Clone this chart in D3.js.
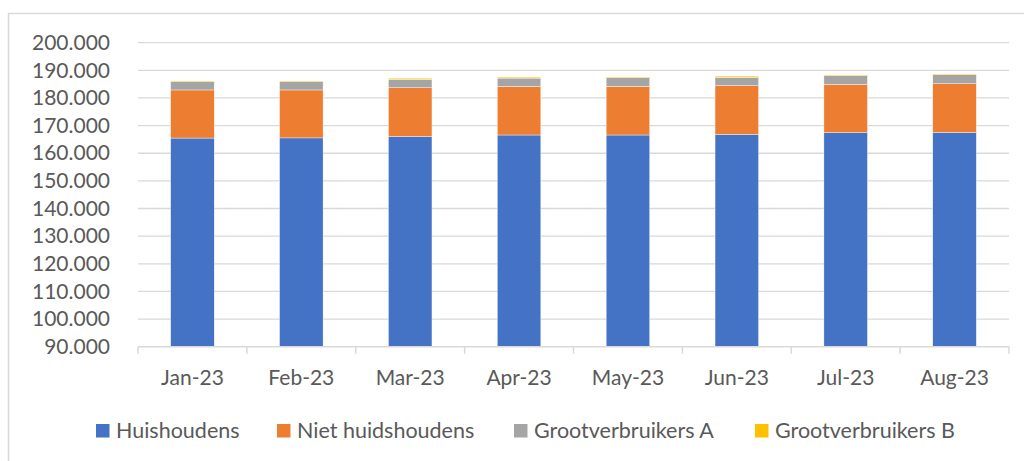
<!DOCTYPE html>
<html>
<head>
<meta charset="utf-8">
<script src="https://cdn.jsdelivr.net/npm/d3@7"></script>
<style>
    body { margin: 0; background: #fff; }
    text { font-family: Lato, "Open Sans", sans-serif; fill: #595959; }
</style>
</head>
<body>
<script>
// data
let months = ["Jan-23", "Feb-23", "Mar-23", "Apr-23", "May-23", "Jun-23", "Jul-23", "Aug-23"];
let huishoudens = [165500, 165550, 166100, 166600, 166600, 166850, 167450, 167550];
let nietHuishoudens = [17400, 17350, 17600, 17600, 17600, 17600, 17500, 17600];
let grootverbruikersA = [3000, 3000, 3000, 3000, 3100, 3000, 3150, 3250];
let grootverbruikersB = [250, 250, 450, 350, 250, 450, 250, 250];
let seriesNames = ["Huishoudens", "Niet huidshoudens", "Grootverbruikers A", "Grootverbruikers B"];
let colors = ["#4472C4", "#ED7D31", "#A5A5A5", "#FFC000"];
let yTicks = [90000, 100000, 110000, 120000, 130000, 140000, 150000, 160000, 170000, 180000, 190000, 200000];

let table = months.map((m, i) => ({
    month: m,
    s0: huishoudens[i],
    s1: nietHuishoudens[i],
    s2: grootverbruikersA[i],
    s3: grootverbruikersB[i]
}));
let stacked = d3.stack().keys(["s0", "s1", "s2", "s3"])(table);

let svg = d3.select("body")
    .append("svg")
    .attr("width", 1024)
    .attr("height", 461);

// chart border (runs off the right and bottom)
svg.append("rect")
    .attr("x", 8.5)
    .attr("y", 13.5)
    .attr("width", 1040)
    .attr("height", 470)
    .attr("fill", "none")
    .attr("stroke", "#d9d9d9")
    .attr("stroke-width", 1.5);

let plotLeft = 138, plotRight = 1009, plotTop = 42.7, plotBottom = 346.7;

let x = d3.scaleBand()
    .domain(months)
    .range([plotLeft, plotRight])
    .paddingInner(0.6)
    .paddingOuter(0.3);

// axis starts at 90.000, so the bottom segment is cut there
let y = d3.scaleLinear()
    .domain([90000, 200000])
    .range([plotBottom, plotTop])
    .clamp(true);

let fmt = d3.formatLocale({ decimal: ",", thousands: ".", grouping: [3], currency: ["", ""] }).format(",d");

// gridlines
svg.append("g")
    .selectAll("line")
    .data(yTicks.filter(d => d > 90000))
    .enter()
    .append("line")
    .attr("x1", plotLeft)
    .attr("x2", plotRight)
    .attr("y1", d => y(d))
    .attr("y2", d => y(d))
    .attr("stroke", "#d9d9d9")
    .attr("stroke-width", 1.3);

// y axis labels
let yAxis = svg.append("g")
    .attr("transform", `translate(${plotLeft},0)`)
    .call(d3.axisLeft(y).tickValues(yTicks).tickFormat(fmt).tickSize(0).tickPadding(28));
yAxis.select(".domain").remove();
yAxis.selectAll("text")
    .attr("font-size", 21)
    .attr("fill", "#595959")
    .style("font-family", "Lato, 'Open Sans', sans-serif");

// bars
svg.append("g")
    .selectAll("g")
    .data(stacked)
    .enter()
    .append("g")
    .attr("fill", (d, i) => colors[i])
    .selectAll("rect")
    .data(d => d)
    .enter()
    .append("rect")
    .attr("x", d => x(d.data.month))
    .attr("width", x.bandwidth())
    .attr("y", d => y(d[1]))
    .attr("height", d => y(d[0]) - y(d[1]))
    .attr("stroke", "#fff")
    .attr("stroke-width", 0.4);

// x axis
let xAxis = svg.append("g")
    .attr("transform", `translate(0,${plotBottom})`)
    .call(d3.axisBottom(x).tickSize(0).tickPadding(23));
xAxis.select(".domain")
    .attr("stroke", "#d9d9d9")
    .attr("stroke-width", 1.5)
    .attr("d", `M${plotLeft},0H${plotRight}`);
xAxis.selectAll("text")
    .attr("font-size", 21)
    .attr("fill", "#595959")
    .style("font-family", "Lato, 'Open Sans', sans-serif");

// category boundary ticks
let edges = d3.range(months.length + 1).map(i => plotLeft + i * (plotRight - plotLeft) / months.length);
svg.append("g")
    .selectAll("line")
    .data(edges)
    .enter()
    .append("line")
    .attr("x1", d => d)
    .attr("x2", d => d)
    .attr("y1", plotBottom)
    .attr("y2", plotBottom + 7)
    .attr("stroke", "#d9d9d9")
    .attr("stroke-width", 1.5);

// legend
let legendX = [96, 277, 514, 755];
let legend = svg.append("g")
    .selectAll("g")
    .data(seriesNames)
    .enter()
    .append("g")
    .attr("transform", (d, i) => `translate(${legendX[i]},424)`);
legend.append("rect")
    .attr("width", 13.5)
    .attr("height", 13.5)
    .attr("fill", (d, i) => colors[i]);
legend.append("text")
    .attr("x", 20)
    .attr("y", 14)
    .attr("font-size", 21.5)
    .text(d => d);
</script>
</body>
</html>
